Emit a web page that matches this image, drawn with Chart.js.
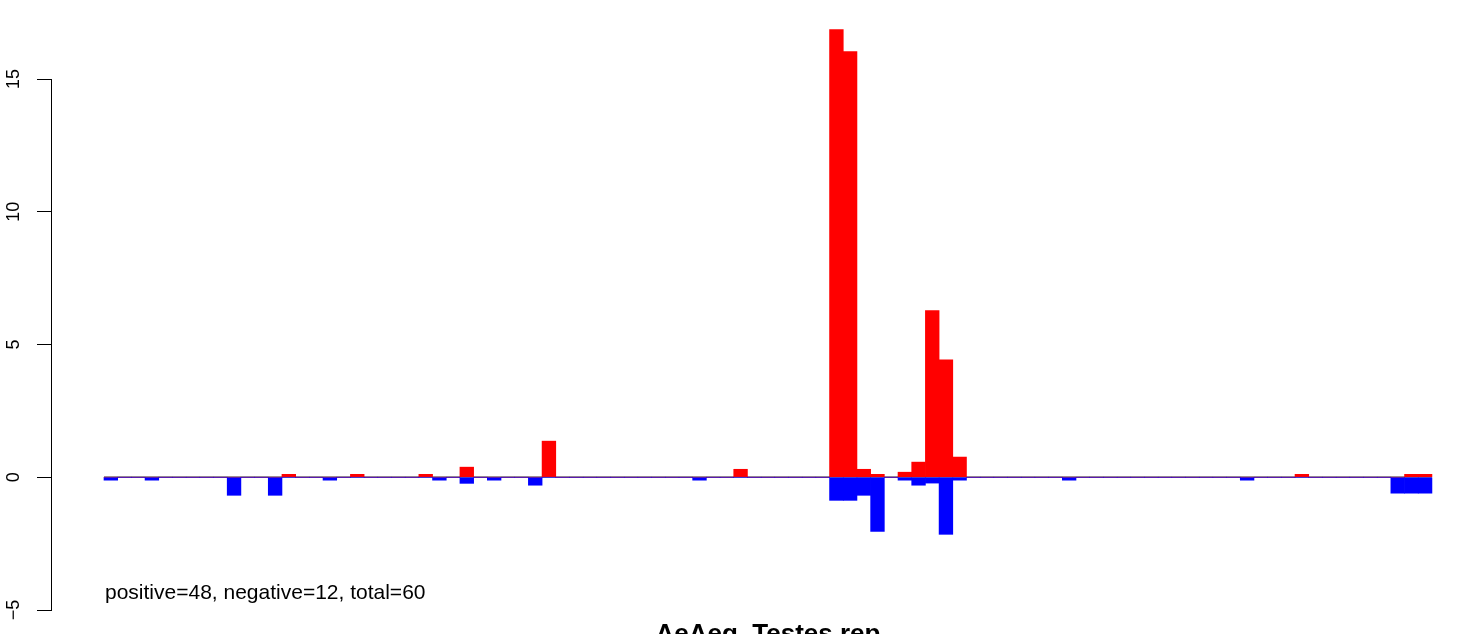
<!DOCTYPE html>
<html>
<head>
<meta charset="utf-8">
<script src="https://cdn.jsdelivr.net/npm/chart.js@4.4.0/dist/chart.umd.min.js"></script>
<style>
  html, body { margin: 0; padding: 0; background: #fff; }
  #wrap { width: 1460px; height: 634px; }
</style>
</head>
<body>
<div id="wrap"><canvas id="chart" width="1460" height="634"></canvas></div>
<script>
// bin index 0..96 along the track
const bins = [];
for (let i = 0; i < 97; i++) bins.push(i);

// positive (red) signal per bin, only non-zero bins listed
const posBins = [13, 18, 23, 26, 32, 46, 53, 54, 55, 56, 58, 59, 60, 61, 62, 87, 95, 96];
const posVals = [0.11, 0.11, 0.11, 0.38, 1.36, 0.30, 16.86, 16.03, 0.30, 0.11, 0.19, 0.57, 6.28, 4.42, 0.76, 0.11, 0.11, 0.11];

// negative (blue) signal per bin
const negBins = [0, 3, 9, 12, 16, 24, 26, 28, 31, 43, 53, 54, 55, 56, 58, 59, 60, 61, 62, 70, 83, 94, 95, 96];
const negVals = [-0.11, -0.11, -0.68, -0.68, -0.11, -0.11, -0.23, -0.11, -0.30, -0.11, -0.87, -0.87, -0.68, -2.04, -0.11, -0.30, -0.22, -2.15, -0.11, -0.11, -0.11, -0.60, -0.60, -0.60];

const yTicks = [-5, 0, 5, 10, 15];
const noteText = "positive=48, negative=12, total=60";
const titleText = "AeAeg_Testes rep";

function fill(idx, vals) {
    const out = bins.map(() => 0);
    idx.forEach((b, k) => { out[b] = vals[k]; });
    return out;
}

const FONT = '"Liberation Sans", Arial, Helvetica, sans-serif';

const rStyle = {
    id: 'rStyle',
    beforeDatasetsDraw(chart) {
        const ctx = chart.ctx, x = chart.scales.x, y = chart.scales.y;
        const y0 = Math.round(y.getPixelForValue(0));
        ctx.save();
        ctx.strokeStyle = '#7a7a7a';
        ctx.lineWidth = 1.5;
        ctx.beginPath();
        ctx.moveTo(x.getPixelForValue(bins[0] - 0.5), y0);
        ctx.lineTo(x.getPixelForValue(bins[bins.length - 1] + 0.5), y0);
        ctx.stroke();
        ctx.restore();
    },
    afterDraw(chart) {
        const ctx = chart.ctx, x = chart.scales.x, y = chart.scales.y;
        ctx.save();
        ctx.fillStyle = '#000';
        // rotated y tick labels like R's las=0
        ctx.font = '18px ' + FONT;
        ctx.textAlign = 'center';
        ctx.textBaseline = 'middle';
        yTicks.forEach(v => {
            ctx.save();
            ctx.translate(14, y.getPixelForValue(v));
            ctx.rotate(-Math.PI / 2);
            ctx.fillText(v < 0 ? '\u2212' + Math.abs(v) : String(v), 0, 0);
            ctx.restore();
        });
        // counts note
        ctx.font = '21px ' + FONT;
        ctx.textAlign = 'left';
        ctx.textBaseline = 'alphabetic';
        ctx.fillText(noteText, x.getPixelForValue(bins[0] - 0.5) + 1, 599);
        // main title (cut by the bottom edge)
        ctx.font = 'bold 26px ' + FONT;
        ctx.textAlign = 'center';
        const mid = (x.getPixelForValue(bins[0] - 0.5) + x.getPixelForValue(bins[bins.length - 1] + 0.5)) / 2;
        ctx.fillText(titleText, mid, 642);
        ctx.restore();
    }
};

new Chart(document.getElementById('chart'), {
    type: 'bar',
    data: {
        labels: bins,
        datasets: [{
            label: 'negative',
            data: fill(negBins, negVals),
            backgroundColor: '#0000ff',
            borderWidth: 0,
            grouped: false,
            clip: false,
            barPercentage: 1,
            categoryPercentage: 1
        }, {
            label: 'positive',
            data: fill(posBins, posVals),
            backgroundColor: '#ff0000',
            borderWidth: 0,
            grouped: false,
            clip: false,
            barPercentage: 1,
            categoryPercentage: 1
        }]
    },
    options: {
        responsive: false,
        devicePixelRatio: 1,
        animation: false,
        layout: { padding: { left: 0, right: 0, top: 79, bottom: 24 } },
        plugins: { legend: { display: false }, tooltip: { enabled: false } },
        scales: {
            x: {
                type: 'linear',
                display: false,
                offset: false,
                min: -4.371,
                max: 98.55
            },
            y: {
                min: -5,
                max: 15,
                afterFit(scale) { scale.width = 51; },
                afterBuildTicks(scale) { scale.ticks = yTicks.map(v => ({ value: v })); },
                ticks: { display: false },
                grid: {
                    display: true,
                    drawOnChartArea: false,
                    drawTicks: true,
                    tickLength: 14,
                    color: '#000',
                    lineWidth: 1
                },
                border: { display: true, color: '#000', width: 1 }
            }
        }
    },
    plugins: [rStyle]
});
</script>
</body>
</html>
